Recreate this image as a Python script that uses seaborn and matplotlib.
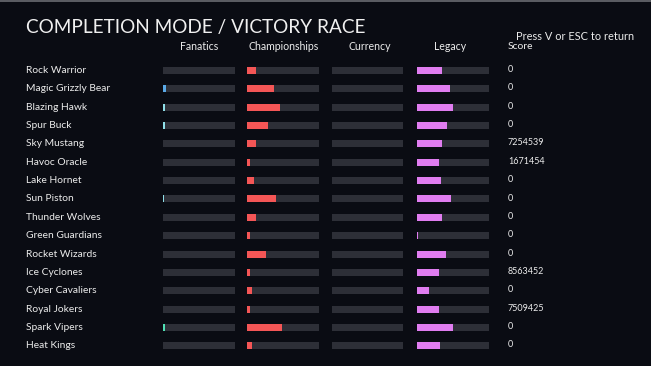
import matplotlib
matplotlib.use("Agg")
import matplotlib.pyplot as plt
import matplotlib.transforms as mtransforms
from matplotlib.patches import Rectangle
import seaborn as sns
import pandas as pd

teams = ["Rock Warrior", "Magic Grizzly Bear", "Blazing Hawk", "Spur Buck", "Sky Mustang",
         "Havoc Oracle", "Lake Hornet", "Sun Piston", "Thunder Wolves", "Green Guardians",
         "Rocket Wizards", "Ice Cyclones", "Cyber Cavaliers", "Royal Jokers", "Spark Vipers",
         "Heat Kings"]
fanatics = [0, 0.04, 0.03, 0.025, 0, 0, 0, 0.02, 0, 0, 0, 0, 0, 0, 0.025, 0]
fan_colors = ["#5aa9e6", "#5aa9e6", "#8fdfe8", "#8fdfe8", "#8fdfe8", "#8fdfe8", "#8fdfe8", "#8fdfe8",
              "#8fdfe8", "#8fdfe8", "#8fdfe8", "#8fdfe8", "#8fdfe8", "#8fdfe8", "#4fe0b4", "#8fdfe8"]
championships = [0.125, 0.375, 0.46, 0.29, 0.125, 0.04, 0.1, 0.4, 0.125, 0.04,
                 0.26, 0.04, 0.07, 0.04, 0.49, 0.07]
currency = [0] * 16
legacy = [0.35, 0.46, 0.51, 0.42, 0.35, 0.31, 0.34, 0.48, 0.35, 0.02,
          0.41, 0.31, 0.17, 0.31, 0.51, 0.32]
scores = ["0", "0", "0", "0", "7254539", "1671454", "0", "0", "0", "0",
          "0", "8563452", "0", "7509425", "0", "0"]
columns = ["Fanatics", "Championships", "Currency", "Legacy"]

BG = "#0a0c13"
TRACK = "#2d2f37"
TXT = "#ececec"
FONT = ["Lato", "DejaVu Sans"]

sns.set_theme(style="dark")
plt.rcParams["font.family"] = FONT

W, H = 651, 366
fig = plt.figure(figsize=(W / 100, H / 100), dpi=100, facecolor=BG)
fig.add_artist(Rectangle((0, 1 - 2 / H), 1, 2 / H, transform=fig.transFigure,
                         facecolor="#5a5c62", edgecolor="none"))

df = pd.DataFrame({"team": teams, "Fanatics": fanatics, "Championships": championships,
                   "Currency": currency, "Legacy": legacy, "track": [1.0] * 16})

col_left = [163, 247, 332, 417]
col_w = 71.5
header_x = [199, 284, 370, 450]
top_px, bot_px = 61.3, 355.0
bar_w = 0.38
kw = dict(width=bar_w, saturation=1, orient="h", linewidth=0, edgecolor="none")

axes = []
for i, col in enumerate(columns):
    ax = fig.add_axes([col_left[i] / W, 1 - bot_px / H, col_w / W, (bot_px - top_px) / H])
    ax.set_facecolor(BG)
    sns.barplot(data=df, x="track", y="team", color=TRACK, ax=ax, **kw)
    if col == "Fanatics":
        sns.barplot(data=df, x=col, y="team", hue="team", palette=fan_colors,
                    ax=ax, legend=False, **kw)
    elif col == "Championships":
        sns.barplot(data=df, x=col, y="team", color="#f45656", ax=ax, **kw)
    elif col == "Legacy":
        sns.barplot(data=df, x=col, y="team", color="#e07df0", ax=ax, **kw)
    else:
        sns.barplot(data=df, x=col, y="team", color="#6fa8dc", ax=ax, **kw)
    ax.set_xlim(0, 1)
    ax.set_ylim(len(teams) - 0.5, -0.5)
    ax.axis("off")
    axes.append(ax)
    fig.text(header_x[i] / W, 1 - 46 / H, col, color=TXT, fontsize=7.6, ha="center",
             va="center")

ax0 = axes[0]
tr = mtransforms.blended_transform_factory(fig.transFigure, ax0.transData)
for j, (t, s) in enumerate(zip(teams, scores)):
    ax0.text(26 / W, j, t, transform=tr, color=TXT, fontsize=7.4, ha="left", va="center",
             clip_on=False)
    ax0.text(508 / W, j - 0.05, s, transform=tr, color=TXT, fontsize=6.5, ha="left",
             va="center", clip_on=False)

fig.text(26 / W, 1 - 27 / H, "COMPLETION MODE / VICTORY RACE", color="#f0f0f0",
         fontsize=13.7, ha="left", va="center", fontweight="normal")
fig.text(508 / W, 1 - 46.5 / H, "Score", color=TXT, fontsize=7.5, ha="left", va="center")
fig.text(634 / W, 1 - 37 / H, "Press V or ESC to return", color=TXT, fontsize=7.9,
         ha="right", va="center")

fig.savefig("out.png", dpi=100, facecolor=BG)
